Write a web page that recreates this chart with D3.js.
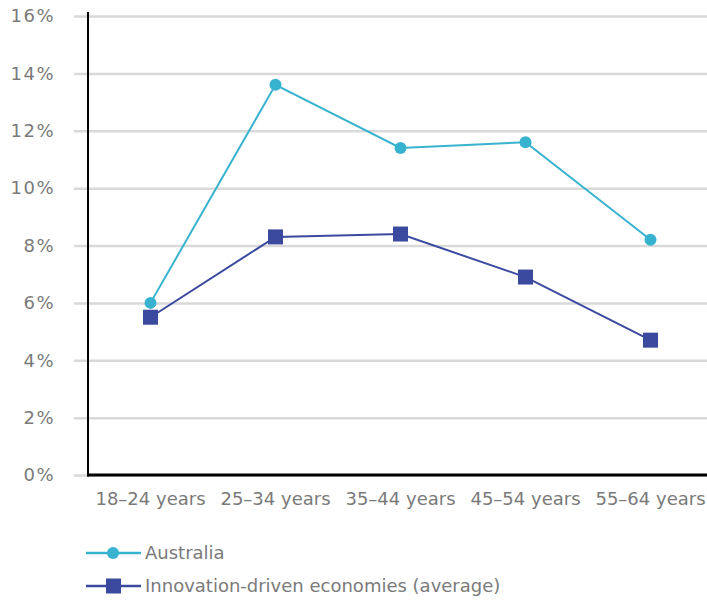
<!DOCTYPE html>
<html>
<head>
<meta charset="utf-8">
<script src="https://cdn.jsdelivr.net/npm/d3@7"></script>
<style>
  html, body { margin: 0; padding: 0; background: #fff; }
  svg { display: block; }
  text { font-family: "DejaVu Sans", sans-serif; fill: #7a7a7a; }
</style>
</head>
<body>
<svg id="chart" width="707" height="601"></svg>
<script>
// Age groups along the x axis
const categories = ["18–24 years", "25–34 years", "35–44 years", "45–54 years", "55–64 years"];
// Share of adults (%) in each age group
const australia = [6.0, 13.6, 11.4, 11.6, 8.2];
const innovationDriven = [5.5, 8.3, 8.4, 6.9, 4.7];
// Y axis ticks (%)
const yTicks = [0, 2, 4, 6, 8, 10, 12, 14, 16];
const seriesNames = ["Australia", "Innovation-driven economies (average)"];

const colAus = "#38b3cf";
const colInn = "#3b4a9f";

const svg = d3.select("#chart");
const plot = { left: 88, right: 713, top: 16, bottom: 475 };

const x = d3.scaleBand().domain(categories).range([plot.left, plot.right]).padding(0);
const y = d3.scaleLinear().domain([0, 16]).range([plot.bottom, plot.top]);

// Horizontal gridlines with tick labels
const yAxis = d3.axisLeft(y)
  .tickValues(yTicks)
  .tickFormat(d => d + "%")
  .tickSize(-(707 - plot.left))
  .tickPadding(33);

const gy = svg.append("g").attr("transform", `translate(${plot.left},0)`).call(yAxis);
gy.select(".domain").remove();
gy.selectAll(".tick line")
  .attr("x1", -14)
  .attr("stroke", "#d9d9d9")
  .attr("stroke-width", 2.5);
gy.selectAll(".tick text")
  .attr("font-size", 18)
  .attr("letter-spacing", 1.5)
  .attr("fill", "#7a7a7a")
  .attr("font-family", "DejaVu Sans, sans-serif");

// Category labels
const xAxis = d3.axisBottom(x).tickSize(0).tickPadding(17);
const gx = svg.append("g").attr("transform", `translate(0,${plot.bottom})`).call(xAxis);
gx.select(".domain").remove();
gx.selectAll(".tick text")
  .attr("font-size", 18)
  .attr("fill", "#7a7a7a")
  .attr("font-family", "DejaVu Sans, sans-serif");

// Axis lines
svg.append("line")
  .attr("x1", plot.left).attr("x2", plot.left)
  .attr("y1", 12).attr("y2", plot.bottom + 1.5)
  .attr("stroke", "#000").attr("stroke-width", 2);
svg.append("line")
  .attr("x1", plot.left - 1).attr("x2", 707)
  .attr("y1", plot.bottom).attr("y2", plot.bottom)
  .attr("stroke", "#000").attr("stroke-width", 3);

const cx = d => x(d) + x.bandwidth() / 2;
const line = d3.line().x(d => cx(d.c)).y(d => y(d.v));

const ausData = categories.map((c, i) => ({ c, v: australia[i] }));
const innData = categories.map((c, i) => ({ c, v: innovationDriven[i] }));

// Australia series
svg.append("path").datum(ausData)
  .attr("d", line).attr("fill", "none")
  .attr("stroke", colAus).attr("stroke-width", 2);
svg.selectAll(".aus").data(ausData).enter().append("circle")
  .attr("cx", d => cx(d.c)).attr("cy", d => y(d.v)).attr("r", 6)
  .attr("fill", colAus);

// Innovation-driven economies series
svg.append("path").datum(innData)
  .attr("d", line).attr("fill", "none")
  .attr("stroke", colInn).attr("stroke-width", 2);
const sq = 15;
svg.selectAll(".inn").data(innData).enter().append("rect")
  .attr("x", d => cx(d.c) - sq / 2).attr("y", d => y(d.v) - sq / 2)
  .attr("width", sq).attr("height", sq)
  .attr("fill", colInn);

// Legend
const legend = svg.append("g");
const legY = [553, 586];
legend.append("line").attr("x1", 86).attr("x2", 141).attr("y1", legY[0]).attr("y2", legY[0])
  .attr("stroke", colAus).attr("stroke-width", 2.5);
legend.append("circle").attr("cx", 113).attr("cy", legY[0]).attr("r", 6).attr("fill", colAus);
legend.append("line").attr("x1", 86).attr("x2", 141).attr("y1", legY[1]).attr("y2", legY[1])
  .attr("stroke", colInn).attr("stroke-width", 2.5);
legend.append("rect").attr("x", 113.5 - sq / 2).attr("y", legY[1] - sq / 2)
  .attr("width", sq).attr("height", sq).attr("fill", colInn);
legend.selectAll("text.lab").data(seriesNames).enter().append("text")
  .attr("x", 145).attr("y", (d, i) => legY[i])
  .attr("dy", "0.35em")
  .attr("font-size", 18)
  .text(d => d);
</script>
</body>
</html>
